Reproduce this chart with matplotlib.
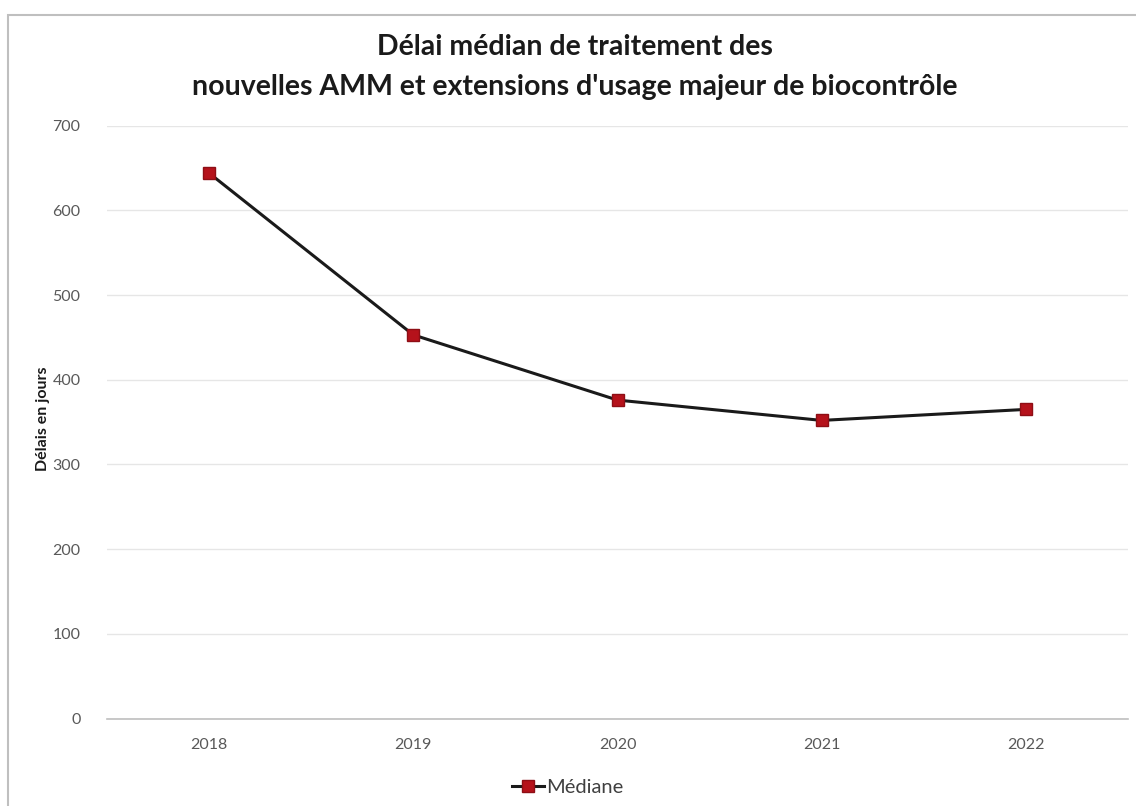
import matplotlib
matplotlib.use("Agg")
import matplotlib.pyplot as plt
from matplotlib.patches import Rectangle

years = ["2018", "2019", "2020", "2021", "2022"]
mediane = [644, 453, 376, 352, 365]
yticks = [0, 100, 200, 300, 400, 500, 600, 700]

plt.rcParams['font.family'] = ['Lato', 'DejaVu Sans']

fig = plt.figure(figsize=(11.36, 8.06), dpi=100)
ax = fig.add_axes([107/1136, 1 - 718.5/806, (1128 - 107)/1136, (718.5 - 125.7)/806])

x = list(range(len(years)))
ax.plot(x, mediane, color='#1a1a1a', lw=2.2, marker='s', markersize=9,
        markerfacecolor='#b5121b', markeredgecolor='#8e0e15', label='Médiane', zorder=3)

ax.set_xlim(-0.5, len(years) - 0.5)
ax.set_ylim(0, 700)
ax.set_yticks(yticks)
ax.set_xticks(x)
ax.set_xticklabels(years)
ax.grid(axis='y', color='#e6e6e6', lw=1)
ax.set_axisbelow(True)
for s in ['top', 'right', 'left']:
    ax.spines[s].set_visible(False)
ax.spines['bottom'].set_color('#bfbfbf')
ax.spines['bottom'].set_linewidth(1.2)
ax.tick_params(axis='both', length=0, colors='#595959', labelsize=11.5)
ax.tick_params(axis='y', pad=19)
ax.tick_params(axis='x', pad=14)

ax.set_ylabel('Délais en jours', fontsize=11.5, fontweight='bold', color='#1a1a1a')
ax.yaxis.set_label_coords(-0.056, 0.505)

fig.text(0.506, 1 - 47/806, 'Délai médian de traitement des', ha='center', va='center',
         fontsize=20.5, fontweight='bold', color='#1a1a1a')
fig.text(0.506, 1 - 87/806, "nouvelles AMM et extensions d'usage majeur de biocontrôle",
         ha='center', va='center', fontsize=20.5, fontweight='bold', color='#1a1a1a')

leg = fig.legend(loc='center', bbox_to_anchor=(568/1136, 1 - 787/806), frameon=False,
                 fontsize=14.5, handlelength=1.6, handletextpad=0.1, labelcolor='#404040')

fig.patches.append(Rectangle((8/1136, -0.01), 1.1, 1 - 15/806 + 0.01, transform=fig.transFigure,
                             fill=False, edgecolor='#bfbfbf', lw=1.5))

fig.savefig('out.png', dpi=100)
